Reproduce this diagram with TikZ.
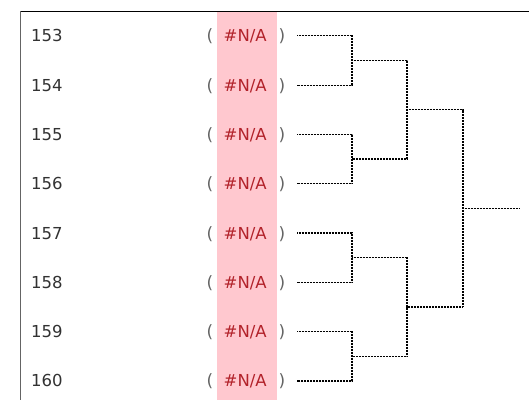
\documentclass[tikz,border=0pt]{standalone}
\usepackage{fontspec}
\setmainfont{DejaVu Sans}
\definecolor{bandpink}{RGB}{255,200,207}
\definecolor{nared}{RGB}{178,34,42}
\definecolor{numgray}{RGB}{50,50,50}
\definecolor{pargray}{RGB}{100,100,100}
\begin{document}
\begin{tikzpicture}[x=1pt,y=-1pt,
  numtxt/.style={anchor=base west,inner sep=0pt,font=\fontsize{16.5}{18}\selectfont,text=numgray},
  partxt/.style={anchor=base,inner sep=0pt,font=\fontsize{17}{18}\selectfont,text=pargray},
  natxt/.style={anchor=base west,inner sep=0pt,font=\fontsize{16.5}{18}\selectfont,text=nared},
  link/.style={draw=black,line width=1.2pt,dash pattern=on 1pt off 0.5pt}]
\useasboundingbox (0,0) rectangle (529,400);
\fill[bandpink] (217,12) rectangle (277,400);
\draw[line width=1.4pt,black] (20,11.5) -- (529,11.5);
\draw[line width=1.4pt,pargray] (20.5,11) -- (20.5,400);
\foreach \n [count=\i from 0] in {153,154,155,156,157,158,159,160}{
  \pgfmathsetmacro{\yy}{35.8+49.3*\i}
  \node[numtxt] (num\i) at (31,\yy+6) {\n};
  \node[partxt] (lp\i) at (210,\yy+6) {(};
  \node[natxt] (na\i) at (223.5,\yy+6) {\#N/A};
  \node[partxt] (rp\i) at (282,\yy+6) {)};
  \coordinate (e\i) at (297,\yy);
}
% round 1 junctions
\foreach \k in {0,1,2,3}{
  \pgfmathsetmacro{\yy}{35.8+49.3*(2*\k+0.5)}
  \coordinate (a\k) at (352,\yy);
}
% round 2 junctions
\foreach \k in {0,1}{
  \pgfmathsetmacro{\yy}{35.8+49.3*(4*\k+1.5)}
  \coordinate (b\k) at (407,\yy);
}
\coordinate (c0) at (463,{35.8+49.3*3.5});
\coordinate (out) at (519,{35.8+49.3*3.5});
\draw[link] (e0) -| (a0) |- (e1);
\draw[link] (e2) -| (a1) |- (e3);
\draw[link] (e4) -| (a2) |- (e5);
\draw[link] (e6) -| (a3) |- (e7);
\draw[link] (a0) -| (b0) |- (a1);
\draw[link] (a2) -| (b1) |- (a3);
\draw[link] (b0) -| (c0) |- (b1);
\draw[link] (c0) -- (out);
\end{tikzpicture}
\end{document}
